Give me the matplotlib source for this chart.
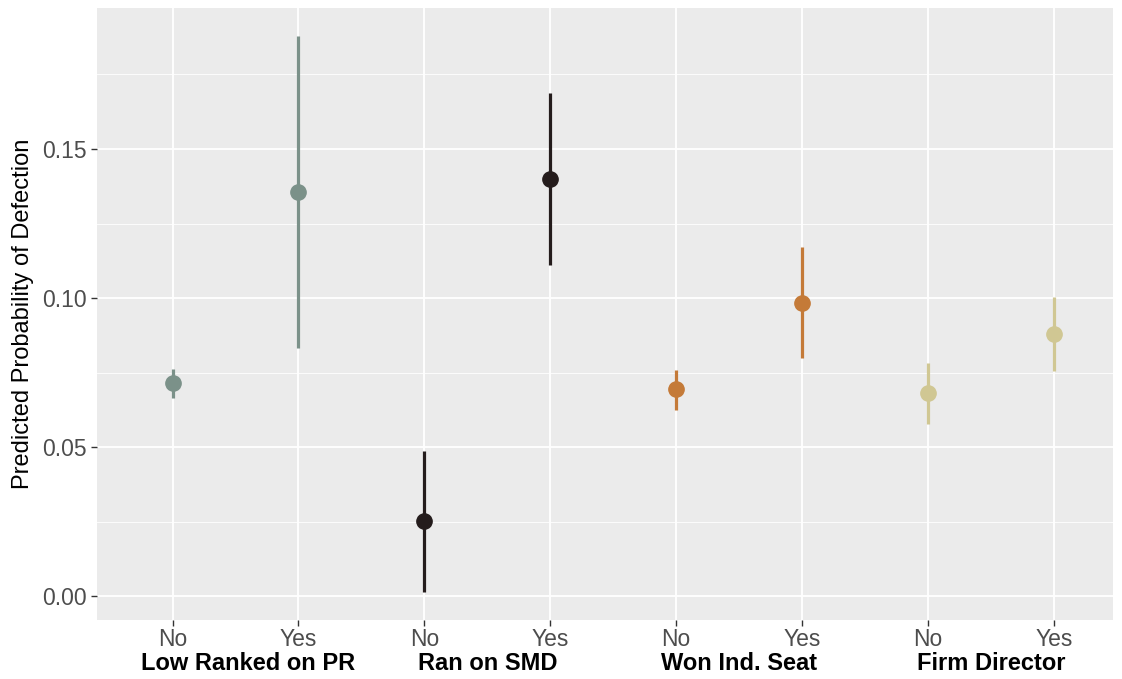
import matplotlib
matplotlib.use('Agg')
import matplotlib.pyplot as plt
from matplotlib.transforms import blended_transform_factory

plt.rcParams['font.family'] = ['Liberation Sans', 'DejaVu Sans']

groups = ['Low Ranked on PR', 'Ran on SMD', 'Won Ind. Seat', 'Firm Director']
levels = ['No', 'Yes']
colors = ['#7B9189', '#241C1C', '#C47A38', '#D0C793']

est = [0.0715, 0.1356, 0.0252, 0.1399, 0.0695, 0.0983, 0.0681, 0.0879]
lower = [0.0664, 0.0832, 0.0013, 0.1111, 0.0624, 0.0799, 0.0577, 0.0755]
upper = [0.0762, 0.1879, 0.0487, 0.1688, 0.0758, 0.1171, 0.0782, 0.1003]

fig = plt.figure(figsize=(11.22, 6.79), dpi=100)
ax = fig.add_axes([97/1122, 1 - 620/679, (1113 - 97)/1122, (620 - 8)/679])
ax.set_facecolor('#EBEBEB')

for i in range(len(est)):
    x = i + 1
    c = colors[i // 2]
    ax.plot([x, x], [lower[i], upper[i]], color=c, lw=2.3, solid_capstyle='butt', zorder=3)
    ax.plot(x, est[i], 'o', color=c, ms=11, zorder=4)

ax.set_xlim(0.4, 8.47)
ax.set_ylim(-0.008, 0.1973)
ax.set_yticks([0.0, 0.05, 0.10, 0.15])
ax.set_yticklabels(['0.00', '0.05', '0.10', '0.15'])
ax.set_yticks([0.025, 0.075, 0.125, 0.175], minor=True)
ax.set_xticks(range(1, 9))
ax.set_xticklabels(levels * 4)

ax.grid(True, which='major', color='white', lw=1.3)
ax.grid(True, which='minor', axis='y', color='white', lw=0.6)
ax.set_axisbelow(True)
for s in ax.spines.values():
    s.set_visible(False)
ax.tick_params(axis='both', which='major', colors='#333333', labelcolor='#4D4D4D',
               labelsize=16.5, length=4, width=1)
ax.tick_params(axis='y', which='minor', length=0)
ax.tick_params(axis='x', pad=2)

ax.set_ylabel('Predicted Probability of Defection', fontsize=17, color='black')
ax.yaxis.set_label_coords(-0.062, 0.5)

# group labels under each No/Yes pair (first one sits a bit right in the original)
trans = blended_transform_factory(ax.transData, ax.transAxes)
shift = [0.1, 0.0, 0.0, 0.0]
for j, g in enumerate(groups):
    ax.text(2 * j + 1.5 + shift[j], -0.071, g, transform=trans, ha='center', va='center',
            fontsize=17, fontweight='bold', color='black')

fig.savefig('out.png', dpi=100)
